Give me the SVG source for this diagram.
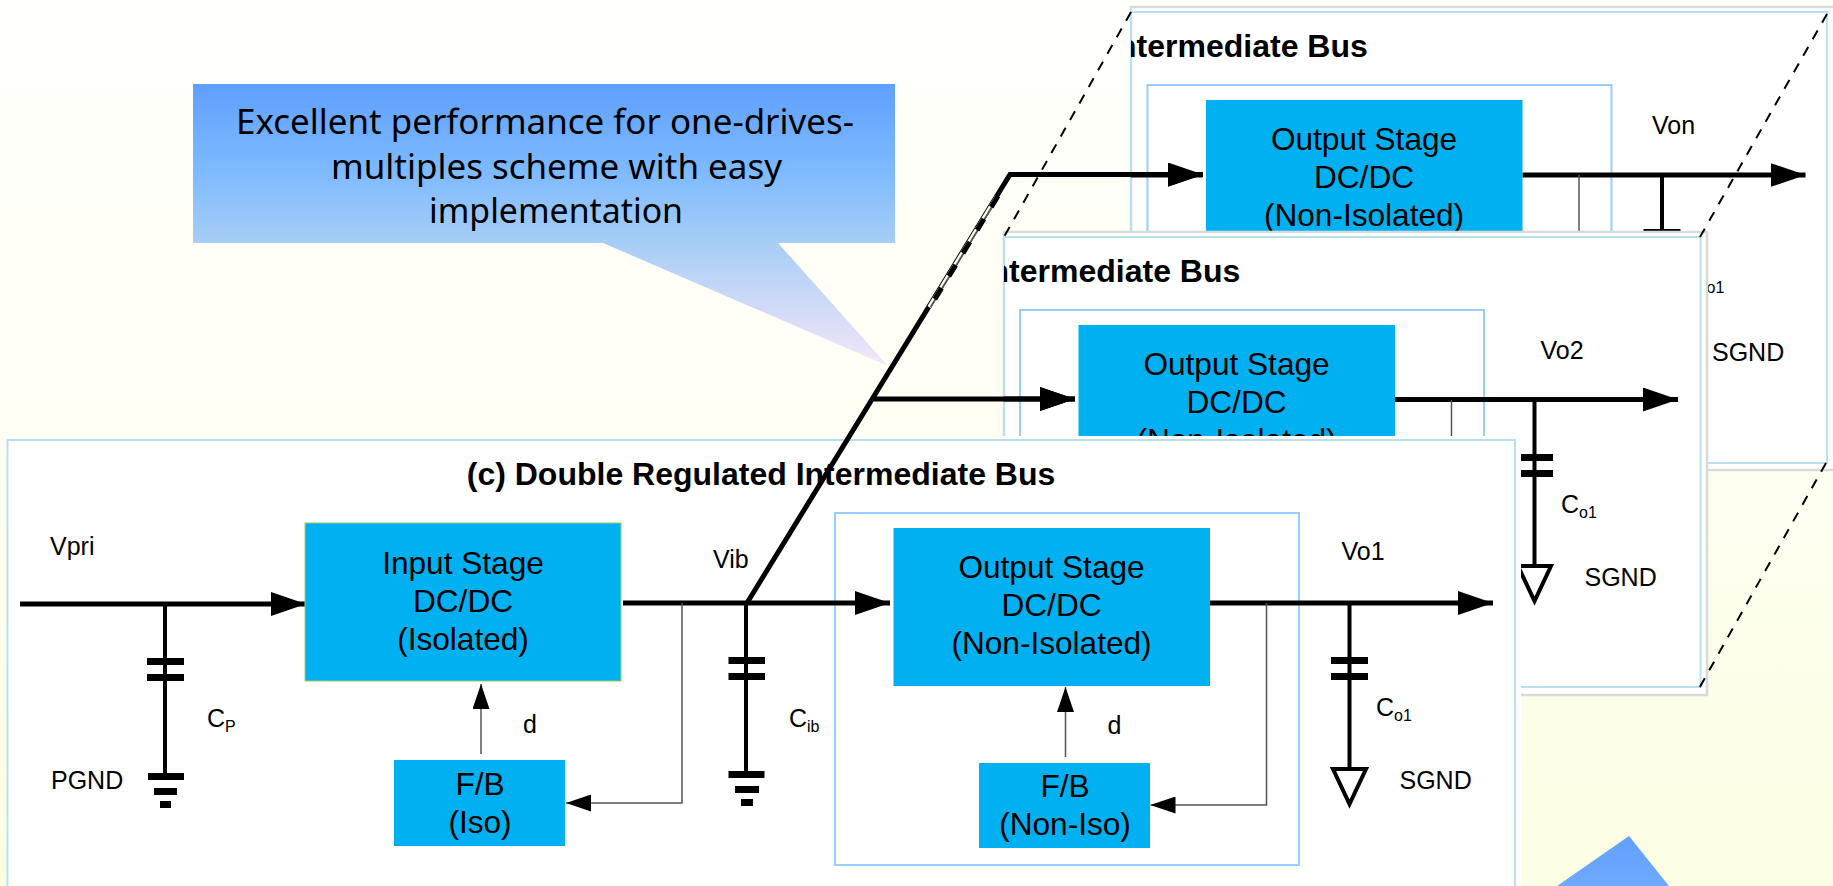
<svg xmlns="http://www.w3.org/2000/svg" width="1833" height="886" viewBox="0 0 1833 886">
<style>
text{font-family:"Liberation Sans",Arial,sans-serif;fill:#000}
.t{font-size:31.6px;text-anchor:middle}
.h{font-size:32px;font-weight:bold;text-anchor:middle}
.l{font-size:25px}
.s{font-size:16px}
.c{font-family:"Noto Sans","DejaVu Sans",sans-serif;font-size:35px;text-anchor:middle}
.box{fill:#00b0f0}
.outer{fill:#fff;stroke:#d9d9d9;stroke-width:2.5}
.frame{fill:none;stroke:#b8e1ef;stroke-width:2}
.inner{fill:#fff;stroke:#99ccff;stroke-width:2}
.th{fill:none;stroke:#000;stroke-width:5}
.wire{fill:none;stroke:#000;stroke-width:4}
.fb{fill:none;stroke:#555;stroke-width:1.5}
.dash{fill:none;stroke:#000;stroke-width:2;stroke-dasharray:10 9}
.bar{fill:#000}
.gnd{fill:#fff;stroke:#000;stroke-width:4}
</style>
<defs>
<linearGradient id="bg" x1="0" y1="0" x2="0" y2="1"><stop offset="0" stop-color="#fffffc"/><stop offset="0.45" stop-color="#fffff5"/><stop offset="1" stop-color="#fbfee2"/></linearGradient>
<linearGradient id="call" gradientUnits="userSpaceOnUse" x1="0" y1="84" x2="0" y2="366"><stop offset="0" stop-color="#5f9fff"/><stop offset="0.3" stop-color="#7db9ff"/><stop offset="0.56" stop-color="#a6cdf6"/><stop offset="1" stop-color="#f5e6f8"/></linearGradient>
<linearGradient id="call2" gradientUnits="userSpaceOnUse" x1="0" y1="836" x2="0" y2="886"><stop offset="0" stop-color="#639fff"/><stop offset="1" stop-color="#6eaaff"/></linearGradient>
<marker id="a1" markerUnits="userSpaceOnUse" markerWidth="35" markerHeight="24" refX="35" refY="12" orient="auto"><path d="M0 0L35 12L0 24z" fill="#000"/></marker>
<marker id="a2" markerUnits="userSpaceOnUse" markerWidth="25" markerHeight="17" refX="25" refY="8.5" orient="auto"><path d="M0 0L25 8.5L0 17z" fill="#000"/></marker>
<clipPath id="cb"><rect x="1131" y="0" width="702" height="470"/></clipPath>
<clipPath id="cm"><rect x="1004" y="232" width="703" height="463"/></clipPath>
</defs>
<rect id="background" width="1833" height="886" fill="url(#bg)"/>

<g id="callout">
<path d="M193 84H895V243H778L888 366L603 243H193z" fill="url(#call)"/>
<text class="c" x="545" y="134" textLength="618" lengthAdjust="spacingAndGlyphs">Excellent performance for one-drives-</text>
<text class="c" x="556.500" y="179" textLength="451" lengthAdjust="spacingAndGlyphs">multiples scheme with easy</text>
<text class="c" x="556" y="223" textLength="254" lengthAdjust="spacingAndGlyphs">implementation</text>
</g>
<path id="callout-lower" d="M1629 836L1669 886H1557z" fill="url(#call2)"/>

<g id="panel-n">
<rect class="outer" x="1131" y="7" width="710" height="463"/>
<rect class="frame" x="1131" y="12" width="696" height="451"/>
<g clip-path="url(#cb)">
<g transform="translate(312.5,-428)">
<text class="h" x="761" y="484.500">(c) Double Regulated Intermediate Bus</text>
<rect class="inner" x="835" y="513" width="464" height="352"/>
<g id="n-connectors">
<path class="th" d="M697.5 603H890" marker-end="url(#a1)"/>
<path class="th" d="M1210 603H1493" marker-end="url(#a1)"/>
<path class="fb" d="M1266.5 603V805"/>
<path class="wire" d="M1349.5 603V769"/>
<rect class="bar" x="1331" y="657" width="37" height="7"/>
</g>
<g id="n-output"><rect class="box" x="893.5" y="528" width="316.5" height="158"/>
<text class="t" x="1051.5" y="578">Output Stage</text><text class="t" x="1051.5" y="616">DC/DC</text><text class="t" x="1051.5" y="654">(Non-Isolated)</text></g>
<text class="l" x="1376" y="716">C<tspan class="s" dy="5">o1</tspan></text>
<text class="l" x="1399.5" y="789">SGND</text>
</g>
<text class="l" x="1652" y="134">Von</text>
</g>
</g>

<g id="panel-2">
<rect class="outer" x="1004" y="232" width="703" height="463"/>
<rect class="frame" x="1004" y="237" width="696.5" height="450"/>
<g clip-path="url(#cm)">
<g transform="translate(185,-203)">
<text class="h" x="761" y="484.500">(c) Double Regulated Intermediate Bus</text>
<rect class="inner" x="835" y="513" width="464" height="352"/>
<g id="m-connectors">
<path class="th" d="M819 602H890" marker-end="url(#a1)"/>
<path class="th" d="M1210 602.500H1493" marker-end="url(#a1)"/>
<path class="fb" d="M1266.5 603V805"/>
<path class="wire" d="M1349.5 603V769"/>
<rect class="bar" x="1331" y="657" width="37" height="7"/>
<rect class="bar" x="1331" y="673" width="37" height="7"/>
<path class="gnd" d="M1333 769H1366L1349.500 804z"/>
</g>
<g id="m-output"><rect class="box" x="893.5" y="528" width="316.5" height="158"/>
<text class="t" x="1051.5" y="578">Output Stage</text><text class="t" x="1051.5" y="616">DC/DC</text><text class="t" x="1051.5" y="654">(Non-Isolated)</text></g>
<text class="l" x="1376" y="716">C<tspan class="s" dy="5">o1</tspan></text>
<text class="l" x="1399.5" y="789">SGND</text>
</g>
<text class="l" x="1540.500" y="359">Vo2</text>
</g>
</g>
<g id="dashes">
<path class="dash" d="M1131 12L1004 237"/>
<path class="dash" d="M1827 14L1700 237"/>
<path class="dash" d="M1826 463L1697 692"/>
</g>

<g id="panel-c">
<rect x="7" y="436" width="1514" height="450" fill="#fff"/>
<rect class="frame" x="7.500" y="440" width="1507.500" height="460"/>
<text class="h" x="761" y="484.500">(c) Double Regulated Intermediate Bus</text>
<rect class="inner" x="835" y="513" width="464" height="352"/>
<text class="l" x="50" y="555">Vpri</text>
<text class="l" x="713" y="568">Vib</text>
<text class="l" x="1341.500" y="560">Vo1</text>
<text class="l" x="207" y="727">C<tspan class="s" dy="5">P</tspan></text>
<text class="l" x="789" y="727">C<tspan class="s" dy="5">ib</tspan></text>
<text class="l" x="1376" y="716">C<tspan class="s" dy="5">o1</tspan></text>
<text class="l" x="51" y="789">PGND</text>
<text class="l" x="1399.500" y="789">SGND</text>
<text class="l" x="523" y="733">d</text>
<text class="l" x="1107.500" y="734">d</text>
<g id="connectors">
<path class="th" d="M20 604H306" marker-end="url(#a1)"/>
<path class="th" d="M623 603H890" marker-end="url(#a1)"/>
<path class="th" d="M1210 603H1493" marker-end="url(#a1)"/>
<path class="wire" d="M165 604V773"/>
<path class="wire" d="M746 603V772"/>
<path class="wire" d="M1349.500 603V769"/>
<path class="fb" d="M682 603V803H566" marker-end="url(#a2)"/>
<path class="fb" d="M1266.500 603V805H1150.500" marker-end="url(#a2)"/>
<path class="fb" d="M481 754V684" marker-end="url(#a2)"/>
<path class="fb" d="M1065.500 757V687" marker-end="url(#a2)"/>
</g>
<g id="cp"><rect class="bar" x="147" y="658" width="37" height="7"/><rect class="bar" x="147" y="674" width="37" height="7"/></g>
<g id="pgnd"><rect class="bar" x="148" y="773" width="36" height="7"/><rect class="bar" x="154" y="788" width="23" height="7"/><rect class="bar" x="160" y="801" width="11" height="7"/></g>
<g id="cib"><rect class="bar" x="728.500" y="657" width="36.500" height="7"/><rect class="bar" x="728.500" y="673" width="36.500" height="7"/></g>
<g id="gnd-ib"><rect class="bar" x="728.500" y="771" width="36" height="7"/><rect class="bar" x="735" y="786" width="24" height="7"/><rect class="bar" x="741" y="799" width="12" height="7"/></g>
<g id="co1"><rect class="bar" x="1331" y="657" width="37" height="7"/><rect class="bar" x="1331" y="673" width="37" height="7"/></g>
<path id="sgnd" class="gnd" d="M1333 769H1366L1349.500 804z"/>
<g id="input-stage"><rect class="box" x="305" y="523" width="316" height="158" stroke="#99cc66" stroke-width="1"/>
<text class="t" x="463" y="573.500">Input Stage</text><text class="t" x="463" y="611.500">DC/DC</text><text class="t" x="463" y="649.500">(Isolated)</text></g>
<g id="output-stage"><rect class="box" x="893.500" y="528" width="316.500" height="158"/>
<text class="t" x="1051.500" y="578">Output Stage</text><text class="t" x="1051.500" y="616">DC/DC</text><text class="t" x="1051.500" y="654">(Non-Isolated)</text></g>
<g id="fb-iso"><rect class="box" x="394" y="760" width="171" height="86"/>
<text class="t" x="480" y="794.500">F/B</text><text class="t" x="480" y="833">(Iso)</text></g>
<g id="fb-noniso"><rect class="box" x="979" y="763" width="171" height="85"/>
<text class="t" x="1065" y="796.500">F/B</text><text class="t" x="1065" y="834.500">(Non-Iso)</text></g>
</g>

<g id="bus-connectors">
<path class="th" d="M747 603L1010 174.500H1203" marker-end="url(#a1)"/>
<path d="M997 196L929 307" fill="none" stroke="#fffffa" stroke-width="3.500"/>
<path d="M998.500 196L930.500 307" fill="none" stroke="#555" stroke-width="1.500"/>
<path d="M998 196L930 307" fill="none" stroke="#000" stroke-width="5" stroke-dasharray="13 14"/>
<path class="th" d="M872 399H1075" marker-end="url(#a1)"/>
</g>
</svg>
